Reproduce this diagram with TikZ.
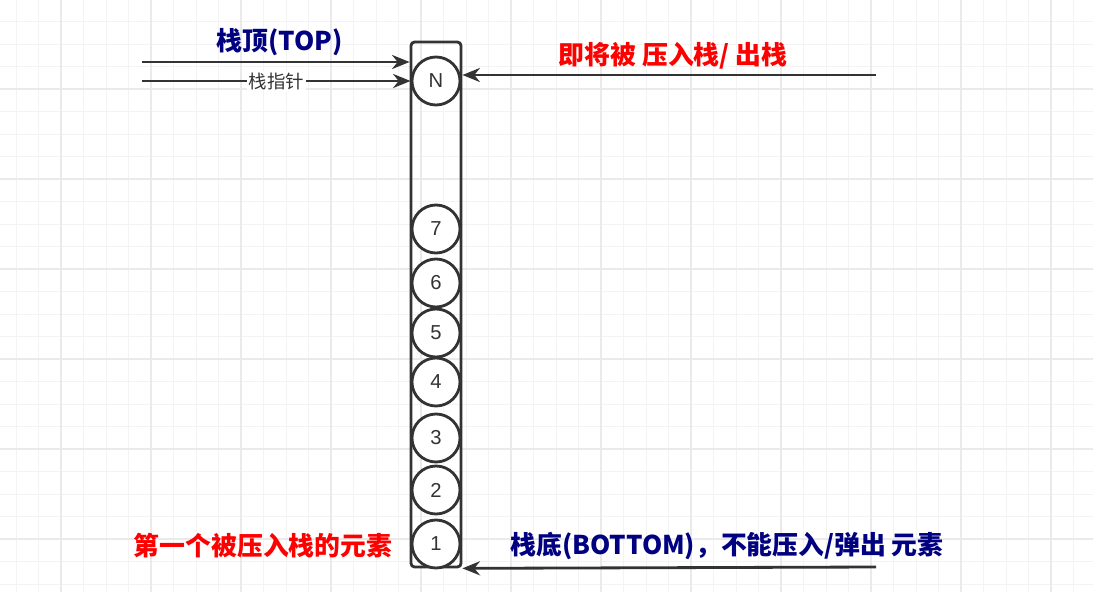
\documentclass[tikz,border=0pt]{standalone}
\usepackage{fontspec}
\setmainfont{Liberation Sans}
\newfontfamily\cjk{Noto Sans CJK SC}
\usetikzlibrary{arrows.meta,positioning}
\definecolor{stkline}{HTML}{333333}
\definecolor{stknavy}{HTML}{000080}
\definecolor{stkred}{HTML}{FF0000}
\definecolor{stkgrid}{HTML}{F3F3F3}
\definecolor{stkgridmajor}{HTML}{EAEAEA}
\tikzset{
  stkbox/.style={
    rectangle, rounded corners=2pt, draw=stkline, line width=1.6pt,
    minimum width=1.0cm, minimum height=10.5cm, inner sep=0pt
  },
  stkelem/.style={
    circle, draw=stkline, fill=white, line width=1.6pt,
    minimum size=0.96cm, inner sep=0pt, text=stkline,
    font=\fontsize{11.5}{13}\selectfont
  },
  stkedge/.style={-{Stealth[length=10pt,width=8pt]},draw=stkline,line width=1.6pt},
  stktitle/.style={font=\cjk\bfseries\fontsize{14.7}{17}\selectfont,inner sep=0pt},
  stkptr/.style={font=\cjk\fontsize{10.5}{12}\selectfont,text=stkline,fill=white,inner sep=1pt},
  stkgridline/.style={draw=stkgrid,line width=0.5pt},
  stkgridmajorline/.style={draw=stkgridmajor,line width=0.6pt}
}

\begin{document}
\begin{tikzpicture}[x=0.02cm,y=-0.02cm]
  \useasboundingbox (0,0) rectangle (1093,592);
  \fill[white] (0,0) rectangle (1093,592);
  % grid
  \foreach \gx in {16,38.5,...,1093} \draw[stkgridline] (\gx,0) -- (\gx,592);
  \foreach \gy in {21.5,44,...,592} \draw[stkgridline] (0,\gy) -- (1093,\gy);
  \foreach \gx in {61,151,...,1093} \draw[stkgridmajorline] (\gx,0) -- (\gx,592);
  \foreach \gy in {89,179,...,592} \draw[stkgridmajorline] (0,\gy) -- (1093,\gy);

  % stack and its elements
  \node[stkbox] (stack) at (436,304.5) {};
  \node[stkelem] (eN) at (436,81) {N};
  \foreach \n/\y in {1/544,2/490,3/438,4/382,5/333,6/283,7/229}
    \node[stkelem] (e\n) at (436,\y) {\n};

  % pointers on the left
  \coordinate (topin) at (142,62);
  \coordinate (ptrin) at (142,81);
  \draw[stkedge] (topin) -- (topin -| stack.west);
  \draw[stkedge] (ptrin) -- node[stkptr] {栈指针} (eN.west);
  \node[stktitle,text=stknavy] (toplbl) at (280,42) {栈顶(TOP)};

  % right side
  \coordinate (pushin) at (876,75);
  \coordinate (basein) at (876,567);
  \draw[stkedge] (pushin) -- (pushin -| stack.east);
  \draw[stkedge] (basein) -- (stack.south east);
  \node[stktitle,text=stkred] (pushlbl) at (673,56) {即将被 压入栈/ 出栈};
  \node[stktitle,text=stknavy] (baselbl) at (727,546) {栈底(BOTTOM)，不能压入/弹出 元素};
  \node[stktitle,text=stkred] (firstlbl) at (263,546) {第一个被压入栈的元素};
\end{tikzpicture}
\end{document}
